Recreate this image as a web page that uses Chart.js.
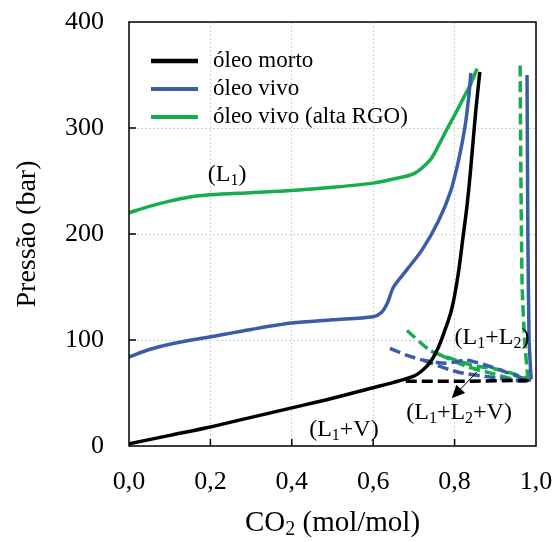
<!DOCTYPE html>
<html>
<head>
<meta charset="utf-8">
<title>Pressão x CO2</title>
<script src="https://cdn.jsdelivr.net/npm/chart.js@4.4.1/dist/chart.umd.min.js"></script>
<style>
	html, body { margin: 0; padding: 0; background: #fff; }
	#wrap { width: 555px; height: 542px; }
</style>
</head>
<body>
<div id="wrap"><canvas id="myChart" width="555" height="542"></canvas></div>
<script>
// Variables - CO2 fraction (mol/mol) and pressure (bar) for each curve
const deadOilX = [0, 0.1, 0.2, 0.3, 0.4, 0.5, 0.6, 0.65, 0.7, 0.72, 0.74, 0.76, 0.775, 0.79, 0.8, 0.81, 0.82, 0.83, 0.838, 0.846, 0.853, 0.862];
const deadOilP = [2, 10, 18, 27, 36, 45, 55, 60, 66, 71, 79, 93, 108, 125, 142, 165, 195, 225, 255, 290, 320, 353];

const liveOilX = [0, 0.05, 0.1, 0.2, 0.3, 0.4, 0.5, 0.6, 0.62, 0.635, 0.65, 0.68, 0.72, 0.76, 0.79, 0.81, 0.825, 0.835, 0.84];
const liveOilP = [84, 91, 96, 103, 110, 116, 119, 122, 126, 135, 150, 165, 185, 212, 240, 270, 300, 330, 352];

const highGorX = [0, 0.05, 0.1, 0.15, 0.2, 0.3, 0.4, 0.5, 0.6, 0.65, 0.7, 0.74, 0.76, 0.78, 0.8, 0.82, 0.84, 0.855];
const highGorP = [220, 226, 231, 235, 237, 239, 241, 244, 248, 252, 257, 270, 283, 298, 312, 327, 342, 356];

// right-hand branches (L1+L2 upper limit)
const liveOilEdgeX = [0.978, 0.98, 0.983, 0.988];
const liveOilEdgeP = [350, 200, 100, 63];
const highGorEdgeX = [0.961, 0.963, 0.966, 0.972, 0.98];
const highGorEdgeP = [359, 250, 150, 100, 64];

// three-phase (L1+L2+V) boundaries, dashed
const deadOil3pX = [0.68, 0.8, 0.9, 0.985];
const deadOil3pP = [61, 61, 61.5, 62];
const liveOil3pUpX = [0.641, 0.68, 0.722, 0.78, 0.83, 0.887, 0.968, 0.988];
const liveOil3pUpP = [92, 86, 81, 78, 81, 75, 64, 62];
const liveOil3pLowX = [0.722, 0.805, 0.887, 0.968, 0.988];
const liveOil3pLowP = [81, 70, 65, 61, 62];
const highGor3pUpX = [0.683, 0.74, 0.78, 0.845, 0.91, 0.978];
const highGor3pUpP = [109, 90, 84, 76, 72, 64];
const highGor3pLowX = [0.764, 0.83, 0.887, 0.968, 0.98];
const highGor3pLowP = [86, 75, 69, 61, 64];

const xTicks = [0, 0.2, 0.4, 0.6, 0.8, 1.0];
const yTicks = [0, 100, 200, 300, 400];

const BLACK = "#000000";
const BLUE = "#3a5da8";
const GREEN = "#17ad4d";
const serif = "'Liberation Serif', 'Times New Roman', serif";
const DASH = [11, 5];

const toPoints = (xs, ys) => xs.map((x, i) => ({ x, y: ys[i] }));

function series(label, xs, ys, color, dashed, tension) {
	return {
		label,
		data: toPoints(xs, ys),
		borderColor: color,
		backgroundColor: color,
		borderWidth: 3.5,
		borderDash: dashed ? DASH : [],
		pointRadius: 0,
		showLine: true,
		fill: false,
		tension,
		borderCapStyle: "butt",
	};
}

// --------------------------- Text helpers ---------------------------
// parts: [text, isSubscript]
function drawRich(ctx, parts, cx, cy, size) {
	const subSize = Math.round(size * 0.68);
	let w = 0;
	parts.forEach(([t, sub]) => {
		ctx.font = `${sub ? subSize : size}px ${serif}`;
		w += ctx.measureText(t).width;
	});
	let x = cx - w / 2;
	ctx.textAlign = "left";
	ctx.textBaseline = "middle";
	ctx.fillStyle = BLACK;
	parts.forEach(([t, sub]) => {
		ctx.font = `${sub ? subSize : size}px ${serif}`;
		ctx.fillText(t, x, sub ? cy + size * 0.24 : cy);
		x += ctx.measureText(t).width;
	});
}

const phaseLabels = [
	{ parts: [["(L", 0], ["1", 1], [")", 0]], x: 0.241, y: 256 },
	{ parts: [["(L", 0], ["1", 1], ["+V)", 0]], x: 0.528, y: 15 },
	{ parts: [["(L", 0], ["1", 1], ["+L", 0], ["2", 1], [")", 0]], x: 0.892, y: 102 },
	{ parts: [["(L", 0], ["1", 1], ["+L", 0], ["2", 1], ["+V)", 0]], x: 0.811, y: 31 },
];
const arrowFrom = { x: 0.855, y: 70 };
const arrowTo = { x: 0.793, y: 45 };

// --------------------------- Frame, ticks, legend, labels ---------------------------
const decorations = {
	id: "decorations",
	afterDatasetsDraw(chart) {
		const { ctx, chartArea: a, scales } = chart;
		const xs = scales.x;
		const ys = scales.y;
		ctx.save();

		// frame
		ctx.strokeStyle = BLACK;
		ctx.lineWidth = 1.5;
		ctx.strokeRect(a.left, a.top, a.right - a.left, a.bottom - a.top);

		// inward tick marks
		ctx.lineWidth = 1.5;
		ctx.beginPath();
		xTicks.slice(1, -1).forEach((v) => {
			const px = xs.getPixelForValue(v);
			ctx.moveTo(px, a.bottom);
			ctx.lineTo(px, a.bottom - 7);
		});
		yTicks.slice(1, -1).forEach((v) => {
			const py = ys.getPixelForValue(v);
			ctx.moveTo(a.left, py);
			ctx.lineTo(a.left + 7, py);
		});
		ctx.stroke();

		// legend (first three datasets)
		chart.data.datasets.slice(0, 3).forEach((ds, i) => {
			const ly = a.top + 39 + i * 28;
			ctx.strokeStyle = ds.borderColor;
			ctx.lineWidth = i === 0 ? 4.5 : 4;
			ctx.setLineDash([]);
			ctx.beginPath();
			ctx.moveTo(a.left + 22, ly);
			ctx.lineTo(a.left + 69, ly);
			ctx.stroke();
			ctx.fillStyle = BLACK;
			ctx.font = `23px ${serif}`;
			ctx.textAlign = "left";
			ctx.textBaseline = "middle";
			ctx.fillText(ds.label, a.left + 84, ly);
		});

		// phase region labels
		phaseLabels.forEach((l) => {
			drawRich(ctx, l.parts, xs.getPixelForValue(l.x), ys.getPixelForValue(l.y), 24);
		});

		// arrow to the three-phase region
		const x0 = xs.getPixelForValue(arrowFrom.x);
		const y0 = ys.getPixelForValue(arrowFrom.y);
		const x1 = xs.getPixelForValue(arrowTo.x);
		const y1 = ys.getPixelForValue(arrowTo.y);
		const ang = Math.atan2(y1 - y0, x1 - x0);
		ctx.strokeStyle = BLACK;
		ctx.lineWidth = 1;
		ctx.beginPath();
		ctx.moveTo(x0, y0);
		ctx.lineTo(x1 - 8 * Math.cos(ang), y1 - 8 * Math.sin(ang));
		ctx.stroke();
		ctx.fillStyle = BLACK;
		ctx.beginPath();
		ctx.moveTo(x1, y1);
		ctx.lineTo(x1 - 13 * Math.cos(ang) + 6 * Math.sin(ang), y1 - 13 * Math.sin(ang) - 6 * Math.cos(ang));
		ctx.lineTo(x1 - 13 * Math.cos(ang) - 6 * Math.sin(ang), y1 - 13 * Math.sin(ang) + 6 * Math.cos(ang));
		ctx.closePath();
		ctx.fill();

		// x axis title with subscript
		drawRich(ctx, [["CO", 0], ["2", 1], [" (mol/mol)", 0]], (a.left + a.right) / 2, 523, 29);

		ctx.restore();
	},
};

// --------------------------- Chart Object ---------------------------
const ctx = document.getElementById("myChart").getContext("2d");
const phaseChart = new Chart(ctx, {
	type: "scatter",
	data: {
		datasets: [
			series("óleo morto", deadOilX, deadOilP, BLACK, false, 0.3),
			series("óleo vivo", liveOilX, liveOilP, BLUE, false, 0.3),
			series("óleo vivo (alta RGO)", highGorX, highGorP, GREEN, false, 0.3),
			series("óleo morto 3F", deadOil3pX, deadOil3pP, BLACK, true, 0),
			series("óleo vivo limite", liveOilEdgeX, liveOilEdgeP, BLUE, false, 0.2),
			series("óleo vivo (alta RGO) limite", highGorEdgeX, highGorEdgeP, GREEN, true, 0.2),
			series("óleo vivo 3F sup", liveOil3pUpX, liveOil3pUpP, BLUE, true, 0.2),
			series("óleo vivo 3F inf", liveOil3pLowX, liveOil3pLowP, BLUE, true, 0.2),
			series("óleo vivo (alta RGO) 3F sup", highGor3pUpX, highGor3pUpP, GREEN, true, 0.2),
			series("óleo vivo (alta RGO) 3F inf", highGor3pLowX, highGor3pLowP, GREEN, true, 0.2),
		],
	},
	options: {
		responsive: false,
		animation: false,
		devicePixelRatio: 1,
		layout: { padding: { top: 22, right: 19, left: 0, bottom: 0 } },
		plugins: {
			legend: { display: false },
			tooltip: { enabled: false },
		},
		scales: {
			x: {
				type: "linear",
				min: 0,
				max: 1,
				// fixed axis band; edge labels fit inside the layout padding
				afterFit: (s) => {
					s.height = 96;
					s.paddingLeft = 0;
					s.paddingRight = 0;
				},
				afterBuildTicks: (s) => { s.ticks = xTicks.map((v) => ({ value: v })); },
				ticks: {
					color: BLACK,
					padding: 21,
					font: { family: serif, size: 26 },
					callback: (v) => v.toFixed(1).replace(".", ","),
				},
				grid: { color: "#d2d2d2", lineWidth: 1, drawTicks: false },
				border: { display: false, dash: [2, 2] },
			},
			y: {
				min: 0,
				max: 400,
				afterFit: (s) => {
					s.width = 129;
					s.paddingTop = 0;
					s.paddingBottom = 0;
				},
				afterBuildTicks: (s) => { s.ticks = yTicks.map((v) => ({ value: v })); },
				ticks: {
					color: BLACK,
					padding: 25,
					font: { family: serif, size: 26 },
				},
				grid: { color: "#d2d2d2", lineWidth: 1, drawTicks: false },
				border: { display: false, dash: [2, 2] },
				title: {
					display: true,
					text: "Pressão (bar)",
					color: BLACK,
					font: { family: serif, size: 28 },
					padding: { top: 11, bottom: 0 },
				},
			},
		},
	},
	plugins: [decorations],
});
</script>
</body>
</html>
